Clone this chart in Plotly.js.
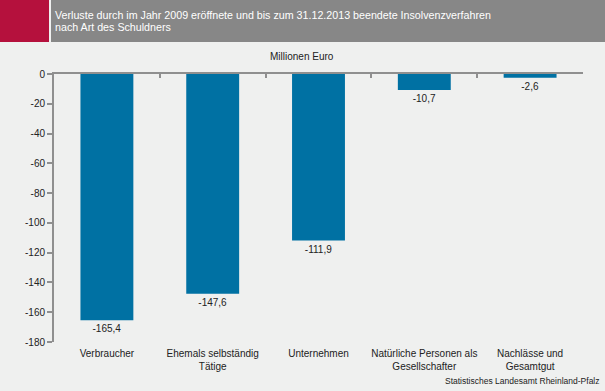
<!DOCTYPE html>
<html>
<head>
<meta charset="utf-8">
<script src="https://cdn.plot.ly/plotly-3.0.1.min.js"></script>
<style>
html,body{margin:0;padding:0;background:#eff0ef;}
#chart{width:605px;height:391px;}
</style>
</head>
<body>
<div id="chart"></div>
<script>
const categories = ["Verbraucher", "Ehemals selbständig<br>Tätige", "Unternehmen", "Natürliche Personen als<br>Gesellschafter", "Nachlässe und<br>Gesamtgut"];
const values = [-165.4, -147.6, -111.9, -10.7, -2.6];
const yTicks = [0, -20, -40, -60, -80, -100, -120, -140, -160, -180];
const titleLine1 = "Verluste durch im Jahr 2009 eröffnete und bis zum 31.12.2013 beendete Insolvenzverfahren";
const titleLine2 = "nach Art des Schuldners";
const unitLabel = "Millionen Euro";
const sourceLabel = "Statistisches Landesamt Rheinland-Pfalz";

const W = 605, H = 391;
const M = {l: 54, r: 22, t: 74, b: 49};
const pw = W - M.l - M.r, ph = H - M.t - M.b;
const px = x => (x - M.l) / pw;
const py = y => (H - M.b - y) / ph;

const fmt = v => v.toFixed(1).replace('.', ',');
const font = "Liberation Sans, Arial, sans-serif";

const traces = [
  {
    type: 'bar',
    x: categories,
    y: values,
    width: 0.5,
    marker: {color: '#0071a3'},
    text: values.map(fmt),
    textposition: 'outside',
    textfont: {family: font, size: 10, color: '#222'},
    cliponaxis: false,
    hoverinfo: 'skip'
  },
  {
    type: 'scatter',
    mode: 'markers',
    x: categories,
    y: values,
    xaxis: 'x2',
    yaxis: 'y',
    marker: {opacity: 0},
    hoverinfo: 'skip',
    showlegend: false
  }
];

const layout = {
  width: W, height: H,
  margin: M,
  paper_bgcolor: '#eff0ef',
  plot_bgcolor: '#eff0ef',
  showlegend: false,
  font: {family: font, size: 10, color: '#222'},
  xaxis: {
    type: 'category',
    range: [-0.5, 4.5],
    showline: false,
    showgrid: false,
    zeroline: false,
    ticks: '',
    ticklabelstandoff: 4,
    tickfont: {family: font, size: 10, color: '#222'},
    fixedrange: true
  },
  xaxis2: {
    type: 'category',
    overlaying: 'x',
    side: 'top',
    anchor: 'y',
    range: [-0.5, 4.5],
    showline: true,
    linecolor: '#8f8f8f',
    linewidth: 2,
    ticks: 'inside',
    tickson: 'boundaries',
    ticklen: 4,
    tickwidth: 2,
    tickcolor: '#8f8f8f',
    showticklabels: false,
    showgrid: false,
    zeroline: false
  },
  yaxis: {
    range: [-180, 0],
    tickmode: 'array',
    tickvals: yTicks,
    ticktext: yTicks.map(String),
    showline: true,
    linecolor: '#8f8f8f',
    linewidth: 2,
    ticks: 'outside',
    ticklen: 5,
    tickwidth: 2,
    tickcolor: '#8f8f8f',
    showgrid: false,
    zeroline: false,
    tickfont: {family: font, size: 10, color: '#222'},
    fixedrange: true
  },
  shapes: [
    {type: 'rect', xref: 'paper', yref: 'paper', x0: px(0), x1: px(49), y0: py(42), y1: py(0), fillcolor: '#b5113d', line: {width: 0}, layer: 'below'},
    {type: 'rect', xref: 'paper', yref: 'paper', x0: px(51), x1: px(605), y0: py(42), y1: py(0), fillcolor: '#878787', line: {width: 0}, layer: 'below'}
  ],
  annotations: [
    {text: titleLine1, xref: 'paper', yref: 'paper', x: px(53), y: py(15.5), xanchor: 'left', yanchor: 'middle', showarrow: false, font: {family: font, size: 10.7, color: '#ffffff'}},
    {text: titleLine2, xref: 'paper', yref: 'paper', x: px(53), y: py(27), xanchor: 'left', yanchor: 'middle', showarrow: false, font: {family: font, size: 10.7, color: '#ffffff'}},
    {text: unitLabel, xref: 'paper', yref: 'paper', x: px(302), y: py(56.5), xanchor: 'center', yanchor: 'middle', showarrow: false, font: {family: font, size: 10, color: '#222'}},
    {text: sourceLabel, xref: 'paper', yref: 'paper', x: px(602), y: py(381), xanchor: 'right', yanchor: 'middle', showarrow: false, font: {family: font, size: 8.5, color: '#222'}}
  ]
};

Plotly.newPlot('chart', traces, layout, {displayModeBar: false, staticPlot: true});
</script>
</body>
</html>
